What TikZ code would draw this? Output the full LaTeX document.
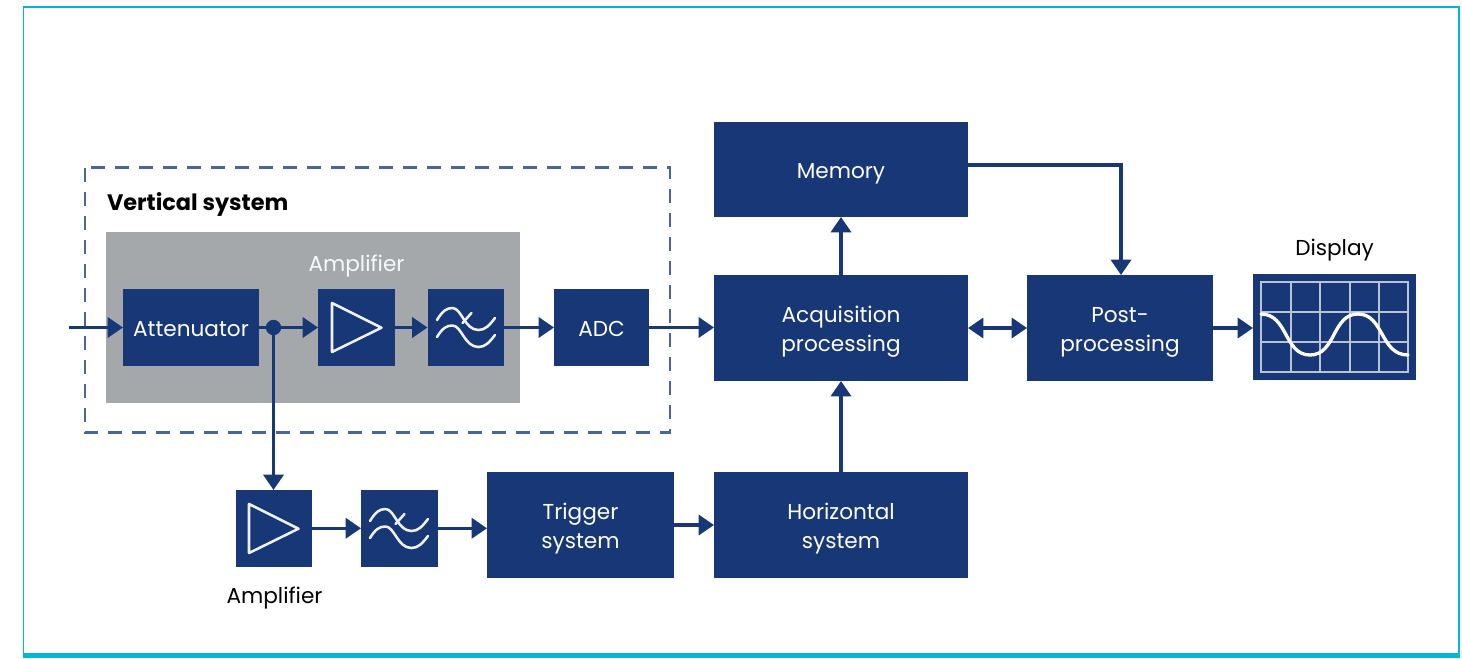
\documentclass[tikz,border=0pt]{standalone}
\usepackage{fontspec}
\setmainfont{Poppins}
\usetikzlibrary{arrows.meta,calc}
\definecolor{navy}{HTML}{173776}
\definecolor{panel}{HTML}{A4A8AB}
\definecolor{rim}{HTML}{00B8D9}
\definecolor{dashblue}{HTML}{4A659B}
\newcommand{\bxnode}[6]{%
  \pgfmathsetmacro{\bxw}{(#4-#2)*0.75}\pgfmathsetmacro{\bxh}{(#5-#3)*0.75}%
  \node[blockbox,minimum width=\bxw pt,minimum height=\bxh pt] (#1) at ({(#2+#4)/2},{(#3+#5)/2}) {#6};}
\newcommand{\tl}[1]{\rule{0pt}{14pt}\smash{#1}}
\tikzset{
  x=0.75pt,y=-0.75pt,
  blockbox/.style={fill=navy,draw=none,text=white,inner sep=0pt,outer sep=0pt,align=center,font=\blockfont},
  label/.style={inner sep=0pt,outer sep=0pt,font=\blockfont},
  link/.style={draw=navy,line width=2.6pt,-{Triangle[length=11.5pt,width=15pt]}},
  biglink/.style={draw=navy,line width=2.6pt,{Triangle[length=11.5pt,width=15pt]}-{Triangle[length=11.5pt,width=15pt]}},
  plainlink/.style={draw=navy,line width=2.6pt},
  icon/.style={draw=white!93!navy,line width=1.9pt,line cap=round,line join=round},
  ampicon/.pic={\draw[icon] (14,14) -- (63.5,38.7) -- (14,63) -- cycle;},
  filtericon/.pic={
    \draw[icon] (9.5,31) .. controls (15,22) and (19,19) .. (25,19) .. controls (34,19) and (37,41) .. (51,41) .. controls (58,41) and (62,36) .. (67.5,29);
    \draw[icon] (9.5,48) .. controls (15,39) and (19,36.5) .. (25,36.5) .. controls (34,36.5) and (37,58) .. (51,58) .. controls (58,58) and (62,53) .. (67.5,46);
    \draw[icon] (35,34) -- (44,24);
  },
  gridline/.style={draw=white!70!navy,line width=0.8pt},
}
\newcommand{\blockfont}{\fontsize{16.2pt}{21.75pt}\selectfont}
\begin{document}
\begin{tikzpicture}
\useasboundingbox (0,0) rectangle (1462,658);
% frame
\draw[rim,line width=1.1pt] (23.5,658) -- (23.5,7) -- (1459,7) -- (1459,658);
\fill[rim] (23,653) rectangle (1460,658);
% vertical system
\draw[dashblue,line width=1.8pt,dash pattern=on 10.5pt off 7.5pt] (85,167.5) rectangle (670,432.5);
\fill[panel] (106,232) rectangle (520,403);
\node[label,anchor=base west,font=\fontsize{16.8pt}{20pt}\selectfont\bfseries] (vs) at (107,210) {Vertical system};
\node[label,text=white!92!panel] (amptext) at (356.5,266) {Amplifier};
% blocks
\bxnode{att}{123}{289}{259}{366}{\tl{Attenuator}}
\bxnode{amp}{318}{289}{394.5}{366}{}
\bxnode{flt}{427.5}{289}{504}{366}{}
\bxnode{adc}{554}{289}{649}{366}{\tl{ADC}}
\bxnode{acq}{714}{275}{968}{381}{\tl{Acquisition}\\\tl{processing}}
\bxnode{mem}{714}{122}{968}{217}{\tl{Memory}}
\bxnode{post}{1027}{275}{1213}{381}{\tl{Post-}\\\tl{processing}}
\bxnode{disp}{1253}{274}{1416}{380}{}
\bxnode{hor}{714}{472}{968}{578}{\tl{Horizontal}\\\tl{system}}
\bxnode{trg}{487}{472}{674}{578}{\tl{Trigger}\\\tl{system}}
\bxnode{ampb}{235.5}{490}{312}{566.5}{}
\bxnode{fltb}{361}{490}{437.5}{566.5}{}
\pic at (318,289) {ampicon};
\pic at (427.5,289) {filtericon};
\pic at (235,490) {ampicon};
\pic at (360.5,490) {filtericon};
% display
\draw[gridline] (1261,282) rectangle (1408,372);
\foreach \gx in {1291,1320,1350,1379} \draw[gridline] (\gx,282) -- (\gx,372);
\foreach \gy in {312,342} \draw[gridline] (1261,\gy) -- (1408,\gy);
\draw[white,line width=2.5pt,line cap=round] (1261,314) .. controls (1288,314) and (1284,355) .. (1310,355) .. controls (1336,355) and (1332,314) .. (1358,314) .. controls (1384,314) and (1380,355) .. (1408,355);
% labels
\node[label] (amplab) at (274.5,598) {Amplifier};
\node[label] (displab) at (1334.5,250) {Display};
% connectors
\coordinate (in) at (69,327.5);
\coordinate (postin) at ($(post.north)+(1,0)$);
\coordinate (memout) at (mem.east |- 0,165);
\node[circle,fill=navy,inner sep=0pt,minimum size=11.5pt] (jn) at (273.5,327.5) {};
\draw[link] (in) -- (att.west);
\draw[plainlink] (att.east) -- (jn);
\draw[link] (jn) -- (amp.west);
\draw[link] (amp.east) -- (flt.west);
\draw[link] (flt.east) -- (adc.west);
\draw[link] (adc.east) -- (acq.west |- adc.east);
\draw[link] (jn) -- (ampb.north -| jn);
\draw[link] (ampb.east) -- (fltb.west);
\draw[link] (fltb.east) -- (trg.west |- fltb.east);
\draw[link] (trg.east) -- (hor.west);
\draw[link] (hor.north) -- (acq.south);
\draw[link] (acq.north) -- (mem.south);
\draw[link] (memout) -| (postin);
\draw[biglink] (acq.east) -- (post.west);
\draw[link] (post.east) -- (disp.west |- post.east);
\end{tikzpicture}
\end{document}
